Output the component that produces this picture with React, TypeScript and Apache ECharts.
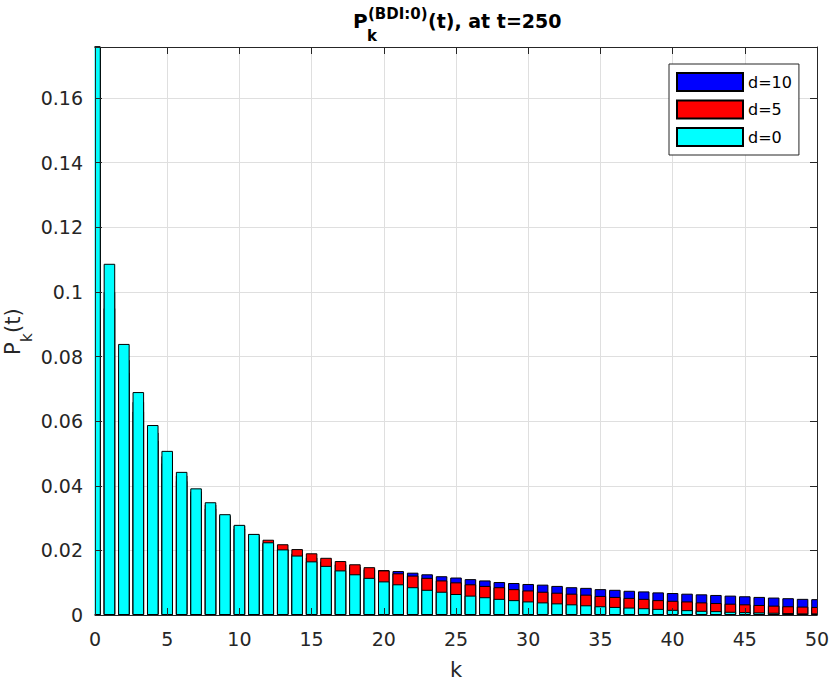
import React, { useEffect, useRef } from 'react';
import * as echarts from 'echarts';

const K = [
  0, 1, 2, 3, 4, 5, 6, 7, 8, 9, 10, 11, 12, 13, 14, 15, 16, 17, 18, 19, 20,
  21, 22, 23, 24, 25, 26, 27, 28, 29, 30, 31, 32, 33, 34, 35, 36, 37, 38, 39, 40,
  41, 42, 43, 44, 45, 46, 47, 48, 49, 50,
];

const D0 = [
  0.36, 0.1087, 0.0839, 0.069, 0.0588, 0.0508, 0.0443, 0.0392, 0.0349, 0.0312,
  0.0279, 0.0251, 0.0225, 0.0203, 0.0184, 0.0166, 0.0152, 0.0138, 0.0126, 0.0115,
  0.0104, 0.0095, 0.0086, 0.0078, 0.0072, 0.0065, 0.006, 0.0055, 0.005, 0.0046,
  0.0042, 0.0039, 0.0036, 0.0033, 0.003, 0.0027, 0.0025, 0.0023, 0.0021, 0.0019,
  0.0016, 0.0015, 0.0013, 0.0012, 0.001, 0.0009, 0.0008, 0.0007, 0.0006, 0.0005,
  0.0005,
];

const D5 = [
  0.3, 0.1, 0.079, 0.066, 0.0565, 0.0492, 0.0432, 0.0383, 0.0342, 0.0307,
  0.0277, 0.025, 0.0233, 0.0219, 0.0204, 0.0191, 0.0177, 0.0167, 0.0157, 0.0148,
  0.0138, 0.0129, 0.0122, 0.0115, 0.0107, 0.0101, 0.0095, 0.009, 0.0086, 0.008,
  0.0076, 0.0072, 0.0069, 0.0066, 0.0063, 0.0059, 0.0056, 0.0053, 0.005, 0.0046,
  0.0044, 0.0042, 0.0039, 0.0037, 0.0035, 0.0033, 0.0031, 0.0029, 0.0027, 0.0026,
  0.0025,
];

const D10 = [
  0.28, 0.095, 0.075, 0.063, 0.054, 0.047, 0.0415, 0.037, 0.033, 0.0297,
  0.0268, 0.0242, 0.0222, 0.0205, 0.019, 0.0178, 0.0166, 0.0157, 0.0149, 0.0142,
  0.0139, 0.0136, 0.0131, 0.0126, 0.012, 0.0116, 0.0111, 0.0107, 0.0102, 0.0099,
  0.0096, 0.0094, 0.009, 0.0086, 0.0084, 0.008, 0.0078, 0.0075, 0.0073, 0.007,
  0.0068, 0.0066, 0.0064, 0.0062, 0.006, 0.0058, 0.0056, 0.0054, 0.0052, 0.005,
  0.0049,
];

const SERIES_NAMES = ['d=10', 'd=5', 'd=0'];
const SERIES_COLORS = ['#0000ff', '#ff0000', '#00ffff'];

export default function App() {
  const ref = useRef<HTMLDivElement>(null);

  useEffect(() => {
    if (!ref.current) return;
    const chart = echarts.init(ref.current, undefined, { renderer: 'svg' });
    const font = '"DejaVu Sans", sans-serif';
    const axisColor = '#262626';
    const gridColor = '#dfdfdf';
    const pairs = (vals: number[]) => K.map((k, i) => [k, vals[i]]);

    const G_LEFT = 95;
    const G_RIGHT = 13;
    const G_TOP = 47;
    const G_BOTTOM = 65;
    const W = 830;
    const H = 680;

    const xScale = { type: 'value', min: 0, max: 50, interval: 5 };
    const yScale = { type: 'value', min: 0, max: 0.1758, interval: 0.02 };

    const lineAxis = (position: string) => ({
      position,
      axisLine: { show: true, onZero: false, lineStyle: { color: axisColor, width: 1 } },
      axisTick: { show: true, inside: true, length: 7, lineStyle: { color: axisColor, width: 1 } },
      axisLabel: { show: false },
      splitLine: { show: false },
      z: 5,
    });

    const dataSets = [D10, D5, D0];

    const txt = (
      x: number,
      y: number,
      text: string,
      fontSpec: string,
      fill: string,
      rotation = 0
    ) => ({
      type: 'text',
      x,
      y,
      rotation,
      z: 10,
      style: {
        text,
        font: fontSpec,
        fill,
        textAlign: 'left',
        textVerticalAlign: 'middle',
        align: 'left',
        verticalAlign: 'middle',
      },
    });

    const option: any = {
      animation: false,
      backgroundColor: '#ffffff',
      grid: {
        left: G_LEFT,
        right: G_RIGHT,
        top: G_TOP,
        bottom: G_BOTTOM,
        containLabel: false,
        outerBoundsMode: 'none',
      },
      xAxis: [
        {
          ...xScale,
          position: 'bottom',
          axisLine: { show: false },
          axisTick: { show: false },
          axisLabel: {
            show: true,
            margin: 14,
            color: axisColor,
            fontSize: 19,
            fontFamily: font,
          },
          splitLine: { show: true, lineStyle: { color: gridColor, width: 1 } },
          name: 'k',
          nameLocation: 'middle',
          nameGap: 44,
          nameTextStyle: { color: axisColor, fontSize: 21, fontFamily: font },
          z: 0,
        },
        { ...xScale, ...lineAxis('bottom') },
        { ...xScale, ...lineAxis('top') },
      ],
      yAxis: [
        {
          ...yScale,
          position: 'left',
          axisLine: { show: false },
          axisTick: { show: false },
          axisLabel: {
            show: true,
            margin: 12,
            color: axisColor,
            fontSize: 19,
            fontFamily: font,
            formatter: (v: number) => (v > 0.17 ? '' : String(+v.toFixed(2))),
          },
          splitLine: { show: true, lineStyle: { color: gridColor, width: 1 } },
          z: 0,
        },
        { ...yScale, ...lineAxis('left') },
        { ...yScale, ...lineAxis('right') },
      ],
      legend: {
        data: SERIES_NAMES,
        orient: 'vertical',
        left: 669,
        top: 64,
        itemWidth: 66,
        itemHeight: 18,
        itemGap: 7.5,
        padding: [8, 7, 8, 7],
        icon: 'rect',
        selectedMode: false,
        backgroundColor: '#ffffff',
        borderColor: axisColor,
        borderWidth: 1,
        borderRadius: 0,
        textStyle: { color: '#000000', fontSize: 16, fontFamily: font },
        z: 10,
      },
      graphic: [
        // masks that trim the bars that overflow the left and right plot edges
        {
          type: 'rect',
          z: 4,
          silent: true,
          shape: { x: G_LEFT - 12, y: G_TOP - 2, width: 11.5, height: H - G_TOP - G_BOTTOM + 2 },
          style: { fill: '#ffffff' },
        },
        {
          type: 'rect',
          z: 4,
          silent: true,
          shape: { x: W - G_RIGHT + 0.5, y: G_TOP - 2, width: 12, height: H - G_TOP - G_BOTTOM + 2 },
          style: { fill: '#ffffff' },
        },
        txt(353, 21, 'P', 'bold 20px "DejaVu Sans"', '#000000'),
        txt(368, 13.5, '(BDI:0)', 'bold 15px "DejaVu Sans"', '#000000'),
        txt(367, 35.5, 'k', 'bold 15px "DejaVu Sans"', '#000000'),
        txt(428, 21, '(t), at t=250', 'bold 19px "DejaVu Sans"', '#000000'),
        txt(13, 355, 'P', '21px "DejaVu Sans"', axisColor, Math.PI / 2),
        txt(27, 342, 'k', '15px "DejaVu Sans"', axisColor, Math.PI / 2),
        txt(13, 333, '(t)', '21px "DejaVu Sans"', axisColor, Math.PI / 2),
      ],
      series: SERIES_NAMES.map((name, i) => ({
        name,
        type: 'bar',
        xAxisIndex: 0,
        yAxisIndex: 0,
        data: pairs(dataSets[i]),
        barWidth: 11.55,
        barGap: '-100%',
        clip: true,
        z: 2,
        itemStyle: {
          color: SERIES_COLORS[i],
          borderColor: '#000000',
          borderWidth: 1,
        },
        emphasis: { disabled: true },
      })),
    };

    chart.setOption(option);
    return () => {
      chart.dispose();
    };
  }, []);

  return (
    <div
      ref={ref}
      style={{ position: 'fixed', left: 0, top: 0, width: 830, height: 680 }}
    />
  );
}
